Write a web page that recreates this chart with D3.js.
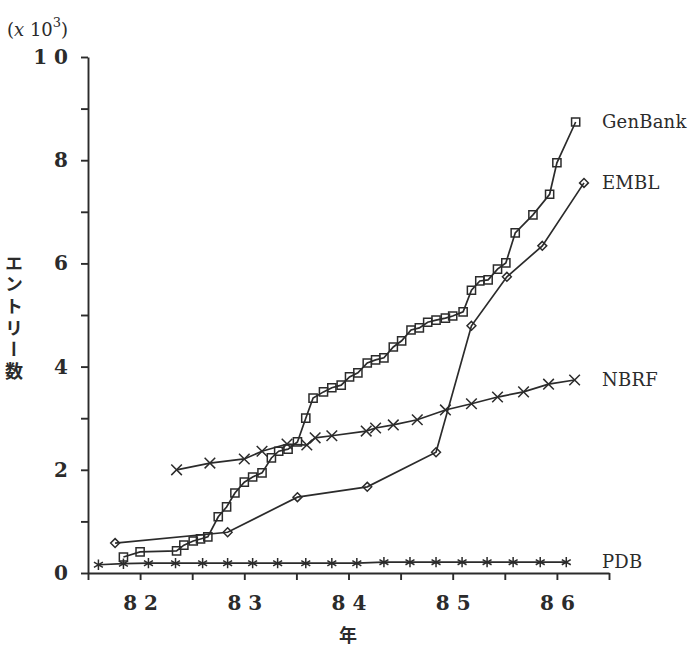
<!DOCTYPE html>
<html>
<head>
<meta charset="utf-8">
<script src="https://cdn.jsdelivr.net/npm/d3@7"></script>
<style>
  body { margin: 0; background: #fff; }
  text { fill: #2b2b2b; }
</style>
</head>
<body>
<svg id="chart" width="693" height="646"></svg>
<script>
// Entries (x 10^3) per year
let genbank = [
    [81.84, 0.31], [82.00, 0.41], [82.35, 0.43], [82.42, 0.54], [82.51, 0.62],
    [82.58, 0.66], [82.65, 0.70], [82.75, 1.09], [82.83, 1.28], [82.91, 1.55],
    [83.00, 1.76], [83.08, 1.86], [83.17, 1.94], [83.26, 2.23], [83.33, 2.36],
    [83.42, 2.40], [83.51, 2.54], [83.59, 3.00], [83.66, 3.39], [83.76, 3.51],
    [83.84, 3.59], [83.93, 3.64], [84.01, 3.80], [84.09, 3.88], [84.18, 4.07],
    [84.26, 4.13], [84.34, 4.17], [84.43, 4.38], [84.51, 4.50], [84.60, 4.71],
    [84.68, 4.75], [84.76, 4.86], [84.84, 4.90], [84.93, 4.94], [85.00, 4.98],
    [85.10, 5.06], [85.18, 5.48], [85.26, 5.66], [85.34, 5.68], [85.43, 5.89],
    [85.51, 6.01], [85.60, 6.59], [85.77, 6.94], [85.93, 7.34], [86.00, 7.95],
    [86.18, 8.74]
];

let embl = [
    [81.76, 0.58], [82.84, 0.79], [83.51, 1.47], [84.18, 1.67], [84.84, 2.34],
    [85.18, 4.79], [85.52, 5.74], [85.86, 6.34], [86.26, 7.56]
];

let nbrf = [
    [82.35, 2.00], [82.67, 2.13], [83.00, 2.21], [83.17, 2.36], [83.41, 2.50],
    [83.60, 2.48], [83.68, 2.62], [83.84, 2.66], [84.17, 2.75], [84.26, 2.81],
    [84.43, 2.87], [84.66, 2.97], [84.93, 3.16], [85.18, 3.28], [85.43, 3.41],
    [85.68, 3.51], [85.92, 3.66], [86.17, 3.74]
];

let pdb = [
    [81.60, 0.16], [81.84, 0.18], [82.08, 0.19], [82.34, 0.19], [82.60, 0.19],
    [82.84, 0.19], [83.08, 0.19], [83.32, 0.19], [83.59, 0.19], [83.84, 0.19],
    [84.08, 0.19], [84.34, 0.21], [84.59, 0.21], [84.84, 0.21], [85.09, 0.21],
    [85.33, 0.21], [85.58, 0.21], [85.84, 0.21], [86.09, 0.21]
];

let seriesNames = ["GenBank", "EMBL", "NBRF", "PDB"];
let yearTicks = [82, 83, 84, 85, 86];
let yLabelTicks = [0, 2, 4, 6, 8, 10];

let svg = d3.select("#chart");
const ink = "#2b2b2b";

let x = d3.scaleLinear().domain([81.5, 86.5]).range([88, 609]);
let y = d3.scaleLinear().domain([0, 10]).range([573, 57]);

// spaced digits like the typeset original: "8 2", "1 0"
let spaced = d => String(d).split("").join(" ");

// Y axis
let yAxis = svg.append("g")
    .attr("transform", "translate(" + x(81.5) + ",0)")
    .call(d3.axisLeft(y)
        .tickValues(d3.range(0, 11))
        .tickSize(7)
        .tickSizeOuter(0)
        .tickPadding(13)
        .tickFormat(d => yLabelTicks.includes(d) ? spaced(d) : ""));

// X axis
let xAxis = svg.append("g")
    .attr("transform", "translate(0," + y(0) + ")")
    .call(d3.axisBottom(x)
        .tickValues(d3.range(81.5, 86.51, 0.5))
        .tickSize(7)
        .tickSizeOuter(0)
        .tickPadding(16)
        .tickFormat(d => yearTicks.includes(d) ? spaced(d) : ""));

[yAxis, xAxis].forEach(g => {
    g.selectAll("path, line").attr("stroke", ink).attr("stroke-width", 1.9);
    g.selectAll("text")
        .attr("fill", ink)
        .attr("font-family", "'DejaVu Serif', serif")
        .attr("font-weight", "bold")
        .attr("font-size", 20);
});

// Unit label
let unit = svg.append("text")
    .attr("x", 7).attr("y", 36)
    .attr("font-family", "'DejaVu Serif', serif")
    .attr("font-size", 18);
unit.append("tspan").text("(");
unit.append("tspan").attr("font-style", "italic").text("x");
unit.append("tspan").text(" 10");
unit.append("tspan").attr("dy", -9).attr("font-size", 13).text("3");
unit.append("tspan").attr("dy", 9).text(")");

// Vertical y-axis title (tategaki)
svg.append("text")
    .attr("x", 14).attr("y", 254)
    .style("writing-mode", "vertical-rl")
    .attr("font-family", "'Noto Sans CJK JP', sans-serif")
    .attr("font-weight", "bold")
    .attr("font-size", 18)
    .attr("letter-spacing", 3.6)
    .text("エントリー数");

// x-axis title
svg.append("text")
    .attr("x", 348).attr("y", 634)
    .attr("font-family", "'Noto Sans CJK JP', sans-serif")
    .attr("font-weight", "bold")
    .attr("font-size", 18)
    .attr("text-anchor", "middle")
    .attr("dominant-baseline", "central")
    .text("年");

// Series
let seriesData = [genbank, embl, nbrf, pdb];
let symbols = [
    d3.symbol().type(d3.symbolSquare2).size(85),
    d3.symbol().type(d3.symbolDiamond2).size(50),
    d3.symbol().type(d3.symbolTimes).size(75),
    d3.symbol().type(d3.symbolAsterisk).size(75)
];

let line = d3.line().x(d => x(d[0])).y(d => y(d[1]));

seriesData.forEach((data, i) => {
    let g = svg.append("g").attr("class", "series");

    g.append("path")
        .datum(data)
        .attr("d", line)
        .attr("fill", "none")
        .attr("stroke", ink)
        .attr("stroke-width", 1.7);

    g.selectAll("path.mark")
        .data(data)
        .enter()
        .append("path")
        .attr("class", "mark")
        .attr("transform", d => "translate(" + x(d[0]) + "," + y(d[1]) + ")")
        .attr("d", symbols[i])
        .attr("fill", "none")
        .attr("stroke", ink)
        .attr("stroke-width", 1.5);

    // End label
    let last = data[data.length - 1];
    g.append("text")
        .attr("x", 602)
        .attr("y", y(last[1]) + 6)
        .attr("font-family", "'DejaVu Serif', serif")
        .attr("font-size", 18)
        .attr("letter-spacing", 0.2)
        .text(seriesNames[i]);
});
</script>
</body>
</html>
